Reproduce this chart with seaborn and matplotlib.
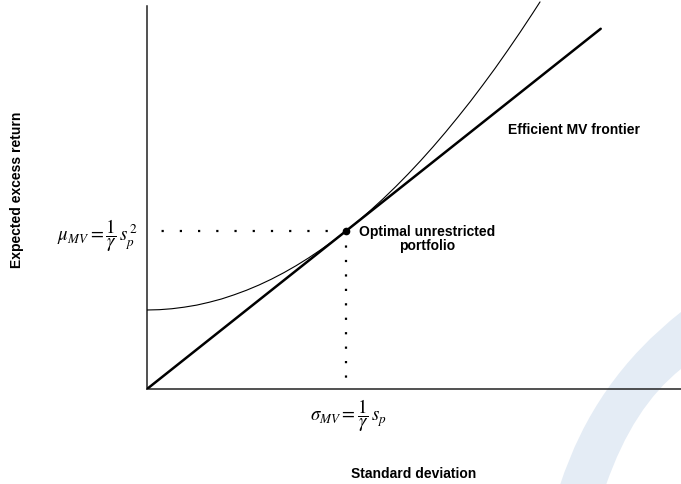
import matplotlib
matplotlib.use('Agg')
import matplotlib.pyplot as plt
import seaborn as sns
import pandas as pd
from matplotlib.path import Path
from matplotlib.patches import PathPatch

# efficient frontier (sigma, mu)
frontier_sigma = [0, 0.0625, 0.125, 0.1875, 0.25, 0.3125, 0.375, 0.4375, 0.5,
                  0.5625, 0.625, 0.6875, 0.75, 0.8125, 0.875, 0.9375, 1.0,
                  1.0625, 1.125, 1.1875, 1.25, 1.3125, 1.375, 1.4375, 1.5,
                  1.5625, 1.625, 1.6875, 1.75, 1.8125, 1.875, 1.9375, 1.975]
frontier_mu = [0.5, 0.502, 0.508, 0.518, 0.531, 0.549, 0.570, 0.596, 0.625,
               0.658, 0.695, 0.736, 0.781, 0.830, 0.883, 0.939, 1.0,
               1.064, 1.133, 1.205, 1.281, 1.361, 1.445, 1.533, 1.625,
               1.721, 1.820, 1.924, 2.031, 2.143, 2.258, 2.377, 2.450]

# straight line through the origin (tangent line)
line_sigma = [0, 2.28]
line_mu = [0, 2.28]

# optimal unrestricted portfolio
opt_sigma = 1.0
opt_mu = 1.0

sns.set_theme(style='white')
plt.rcParams['font.family'] = ['Liberation Sans', 'DejaVu Sans']
plt.rcParams['mathtext.fontset'] = 'stix'
plt.rcParams['text.color'] = 'black'
plt.rcParams['axes.labelcolor'] = 'black'

fig = plt.figure(figsize=(6.81, 4.85), dpi=100)
ax = fig.add_axes([147 / 681, 95 / 485, 534 / 681, 390 / 485])
ax.set_facecolor('none')

# light blue decoration in the lower right corner (figure pixels)
def fp(x, y):
    return (x / 681, 1 - y / 485)

verts = [fp(681, 313), fp(594, 381), fp(560, 486), fp(606, 486),
         fp(633, 408), fp(681, 370), fp(681, 313)]
codes = [Path.MOVETO, Path.CURVE3, Path.CURVE3, Path.LINETO,
         Path.CURVE3, Path.CURVE3, Path.CLOSEPOLY]
band = PathPatch(Path(verts, codes), facecolor='#e4ecf5', edgecolor='none',
                 transform=fig.transFigure, zorder=-5)
fig.patches.append(band)

frontier = pd.DataFrame({'sigma': frontier_sigma, 'mu': frontier_mu})
sns.lineplot(data=frontier, x='sigma', y='mu', ax=ax, color='black',
             linewidth=0.8, sort=False, zorder=3)
sns.lineplot(x=line_sigma, y=line_mu, ax=ax, color='black', linewidth=1.8, zorder=4)

# dotted guides to the axes
ax.plot([opt_sigma, 0.07], [opt_mu, opt_mu], color='black', linewidth=1.6,
        linestyle=(0, (1, 7.2)), zorder=2)
ax.plot([opt_sigma, opt_sigma], [opt_mu, 0.06], color='black', linewidth=1.6,
        linestyle=(0, (1, 5.5)), zorder=2)
ax.plot([opt_sigma], [opt_mu], marker='o', markersize=4.5, color='black', zorder=5)

ax.set_xlim(0, 534 / 199)
ax.set_ylim(0, 390 / 158)
ax.set_xticks([])
ax.set_yticks([])
for side in ['top', 'right']:
    ax.spines[side].set_visible(False)
for side in ['left', 'bottom']:
    ax.spines[side].set_color('#222222')
    ax.spines[side].set_linewidth(1.1)
ax.spines['left'].set_bounds(0, 383 / 158)

ax.text(1.814, 1.646, 'Efficient MV frontier', fontsize=10, fontweight='bold',
        ha='left', va='center')
ax.text(1.407, 0.956, 'Optimal unrestricted\nportfolio', fontsize=10,
        fontweight='bold', ha='center', va='center', multialignment='center',
        linespacing=1.05)

ax.text(-9 / 534, (390 - 236) / 390, r'$\mu_{MV} = \dfrac{1}{\gamma}\,s_p^{\,2}$',
        transform=ax.transAxes, fontsize=13.5, ha='right', va='center')
ax.text(opt_sigma + 2 / 199, -26 / 390, r'$\sigma_{MV} = \dfrac{1}{\gamma}\,s_p$',
        transform=ax.get_xaxis_transform(), fontsize=13.5, ha='center', va='center')

ax.set_xlabel('Standard deviation', fontsize=10, fontweight='bold')
ax.set_ylabel('Expected excess return', fontsize=10, fontweight='bold')
ax.xaxis.set_label_coords(0.5, -0.197)
ax.yaxis.set_label_coords(-0.230, 0.513)

fig.savefig('out.png', dpi=100)
